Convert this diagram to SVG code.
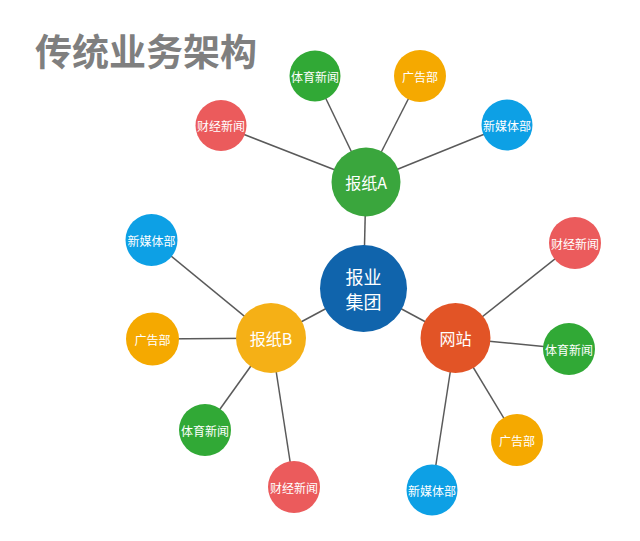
<svg xmlns="http://www.w3.org/2000/svg" width="640" height="541" viewBox="0 0 640 541">
<style>
.t{font-family:"Noto Sans CJK SC","Noto Sans",sans-serif;fill:#fff;text-anchor:middle;dominant-baseline:central}
.s{font-size:12px}
.m{font-size:16px}
.l{font-size:18px}
.c line{stroke:#5a5a5a;stroke-width:1.5}
.red{fill:#EB5B5C}.grn{fill:#31A936}.org{fill:#F5A900}.blu{fill:#0DA0E5}
</style>
<rect width="640" height="541" fill="#fff"/>
<text x="35" y="66" style="font-family:'Noto Sans CJK SC',sans-serif;font-weight:bold;font-size:37px;fill:#7f7f7f">传统业务架构</text>
<g id="connectors" class="c">
<line x1="366" y1="182" x2="363.5" y2="288.5"/>
<line x1="271" y1="338" x2="363.5" y2="288.5"/>
<line x1="455.5" y1="338" x2="363.5" y2="288.5"/>
<line x1="366" y1="182" x2="315" y2="76"/>
<line x1="366" y1="182" x2="420" y2="76"/>
<line x1="366" y1="182" x2="221" y2="125.5"/>
<line x1="366" y1="182" x2="507" y2="125"/>
<line x1="271" y1="338" x2="151.5" y2="240"/>
<line x1="271" y1="338" x2="152.5" y2="339"/>
<line x1="271" y1="338" x2="205" y2="430"/>
<line x1="271" y1="338" x2="294" y2="487"/>
<line x1="455.5" y1="338" x2="575" y2="243"/>
<line x1="455.5" y1="338" x2="569" y2="349"/>
<line x1="455.5" y1="338" x2="517" y2="440"/>
<line x1="455.5" y1="338" x2="432" y2="490"/>
</g>
<g id="center"><circle cx="363.5" cy="288.5" r="43.5" fill="#1064AC"/><text class="t l" x="363.5" y="276">报业</text><text class="t l" x="363.5" y="301">集团</text></g>
<g id="paperA"><circle cx="366" cy="182" r="34.5" fill="#3AA63D"/><text class="t m" x="366" y="182">报纸A</text></g>
<g id="paperB"><circle cx="271" cy="338" r="35" fill="#F5B016"/><text class="t m" x="271" y="338">报纸B</text></g>
<g id="web"><circle cx="455.5" cy="338" r="35" fill="#E25426"/><text class="t m" x="455.5" y="338">网站</text></g>
<g id="a-sports"><circle class="grn" cx="315" cy="76" r="25.5"/><text class="t s" x="315" y="76">体育新闻</text></g>
<g id="a-ads"><circle class="org" cx="420" cy="76" r="26"/><text class="t s" x="420" y="76">广告部</text></g>
<g id="a-finance"><circle class="red" cx="221" cy="125.5" r="25.5"/><text class="t s" x="221" y="125.5">财经新闻</text></g>
<g id="a-media"><circle class="blu" cx="507" cy="125" r="25.5"/><text class="t s" x="507" y="125">新媒体部</text></g>
<g id="b-media"><circle class="blu" cx="151.5" cy="240" r="26"/><text class="t s" x="151.5" y="240">新媒体部</text></g>
<g id="b-ads"><circle class="org" cx="152.5" cy="339" r="26.5"/><text class="t s" x="152.5" y="339">广告部</text></g>
<g id="b-sports"><circle class="grn" cx="205" cy="430" r="26"/><text class="t s" x="205" y="430">体育新闻</text></g>
<g id="b-finance"><circle class="red" cx="294" cy="487" r="26"/><text class="t s" x="294" y="487">财经新闻</text></g>
<g id="w-finance"><circle class="red" cx="575" cy="243" r="26"/><text class="t s" x="575" y="243">财经新闻</text></g>
<g id="w-sports"><circle class="grn" cx="569" cy="349" r="26"/><text class="t s" x="569" y="349">体育新闻</text></g>
<g id="w-ads"><circle class="org" cx="517" cy="440" r="26"/><text class="t s" x="517" y="440">广告部</text></g>
<g id="w-media"><circle class="blu" cx="432" cy="490" r="25.5"/><text class="t s" x="432" y="490">新媒体部</text></g>
</svg>
